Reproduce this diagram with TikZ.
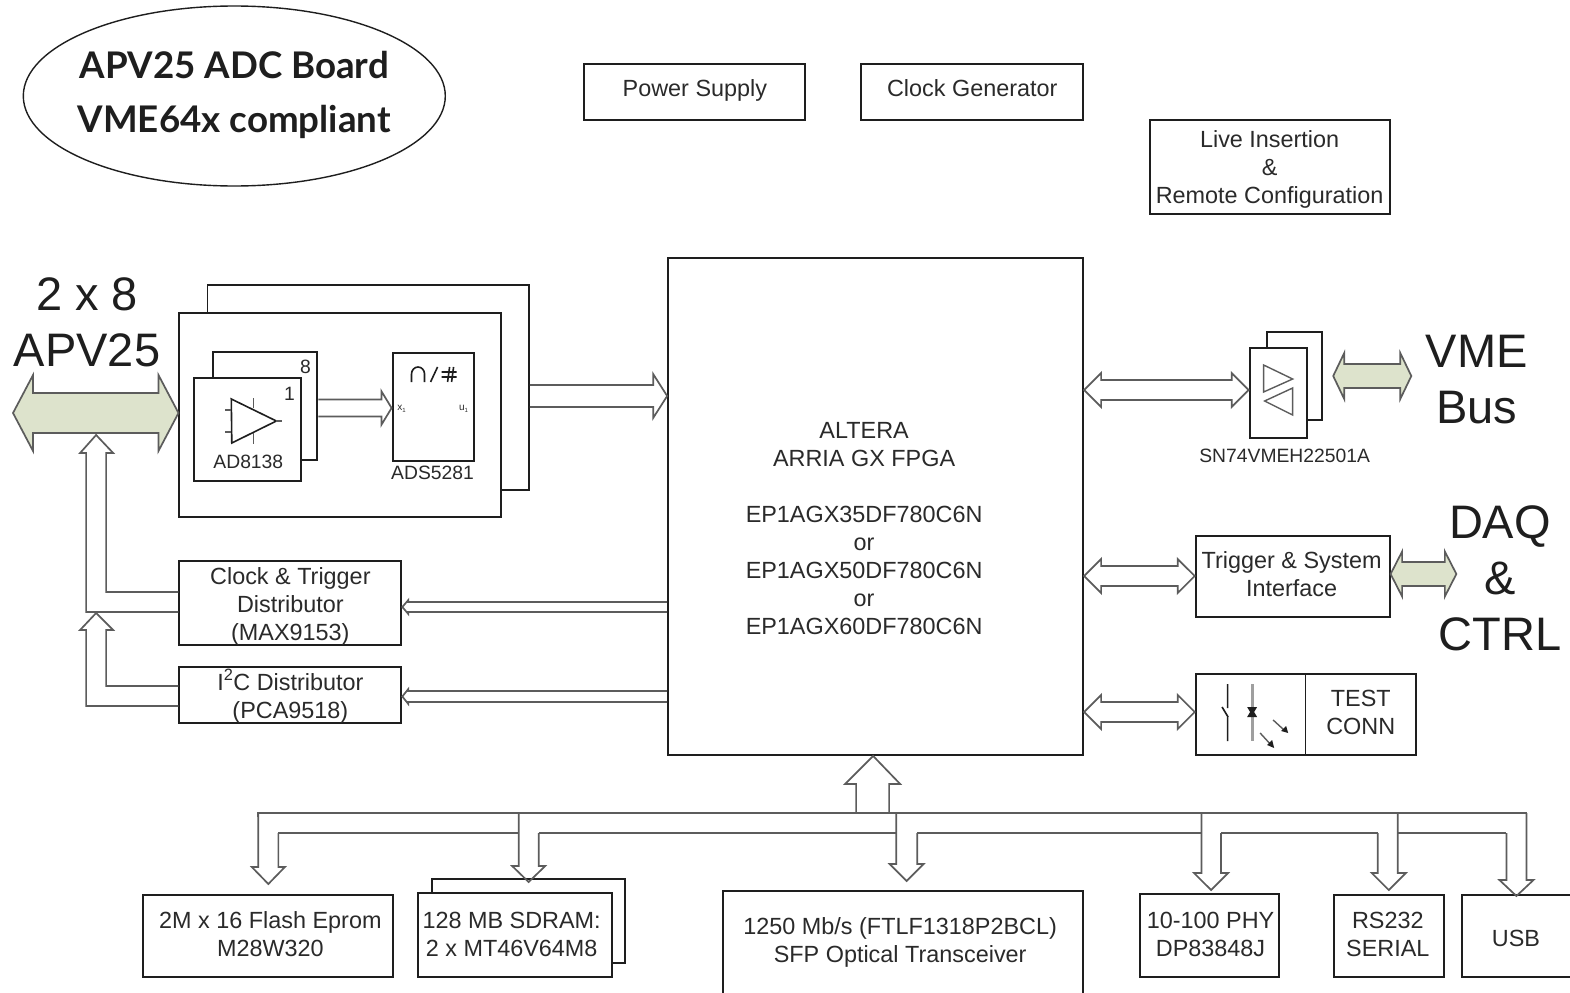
\documentclass[tikz,border=0pt]{standalone}
\usepackage{fontspec}
\setmainfont{Liberation Sans}
\newfontfamily\titlefont{Lato}
\usetikzlibrary{calc,shapes.geometric}
\definecolor{ink}{HTML}{1E1E1E}
\definecolor{txt}{HTML}{2A2A2A}
\definecolor{fatline}{HTML}{5C5C5C}
\definecolor{greenfill}{HTML}{DDE3CC}
\newsavebox\mystrutbox
\sbox\mystrutbox{\rule[-6pt]{0pt}{28pt}}
\newcommand\st{\usebox\mystrutbox}
\tikzset{
  boxline/.style={draw=ink,line width=1.9pt,fill=white,inner sep=0pt},
  label text/.style={text=txt,align=center,inner sep=0pt,font=\fontsize{23.4}{28}\selectfont},
  small text/.style={text=txt,align=center,inner sep=0pt,font=\fontsize{19.3}{22}\selectfont},
  big text/.style={text=ink,align=center,inner sep=0pt,font=\fontsize{47}{56}\selectfont},
  title text/.style={text=ink,inner sep=0pt,font=\titlefont\bfseries\fontsize{36.7}{40}\selectfont},
  fat/.style={draw=fatline,line width=1.7pt,line join=miter},
  greenfat/.style={draw=fatline,line width=1.7pt,fill=greenfill,line join=miter},
  icon/.style={draw=ink,line width=1.6pt},
  thinicon/.style={draw=fatline,line width=1.4pt},
  symbol/.style={draw=ink,line width=1.6pt}
}
% rectangle node from corners
\newcommand\bx[5]{\node[boxline,minimum width=#4pt-#2pt,minimum height=#5pt-#3pt] (#1) at ({(#2+#4)/2},{(#3+#5)/2}) {};}
% double headed horizontal arrow: style, left tip, right tip, half shaft, half head, head length
\newcommand\dbl[6]{\draw[#1] (#2) -- ($(#2)+(#6,-#5)$) -- ($(#2)+(#6,-#4)$) -- ($(#3)+(-#6,-#4)$) -- ($(#3)+(-#6,-#5)$) -- (#3) -- ($(#3)+(-#6,#5)$) -- ($(#3)+(-#6,#4)$) -- ($(#2)+(#6,#4)$) -- ($(#2)+(#6,#5)$) -- cycle;}
% single arrow, open tail, pointing right: tail centre, tip, half shaft, half head, head length
\newcommand\fatr[5]{\draw[fat] ($(#1)+(0,-#3)$) -- ($(#2)+(-#5,-#3)$) -- ($(#2)+(-#5,-#4)$) -- (#2) -- ($(#2)+(-#5,#4)$) -- ($(#2)+(-#5,#3)$) -- ($(#1)+(0,#3)$);}
% single arrow pointing left
\newcommand\fatl[5]{\draw[fat] ($(#1)+(0,-#3)$) -- ($(#2)+(#5,-#3)$) -- ($(#2)+(#5,-#4)$) -- (#2) -- ($(#2)+(#5,#4)$) -- ($(#2)+(#5,#3)$) -- ($(#1)+(0,#3)$);}
% branch down from bus: tip name, left x offset, right x offset, left start y, right start y, half head, head length
\newcommand\fatd[7]{%
  \coordinate (fdl) at ($(#1)+(#2,0)$);
  \coordinate (fdr) at ($(#1)+(#3,0)$);
  \draw[fat] (fdl |- 0,#4) -- ($(#1)+(#2,-#7)$) -- ($(#1)+(-#6,-#7)$) -- (#1) -- ($(#1)+(#6,-#7)$) -- ($(#1)+(#3,-#7)$) -- (fdr |- 0,#5);}
\begin{document}
\begin{tikzpicture}[x=1.00128pt,y=-1pt]
\useasboundingbox (0,0) rectangle (1568,993);
\clip (0,0) rectangle (1568,993);
\fill[white] (0,0) rectangle (1568,993);

% title
\node[draw=ink,line width=1.4pt,ellipse,minimum width=422pt,minimum height=180pt,inner sep=0pt] (title) at (234,96) {};
\node[title text] (title1) at (234,65) {APV25 ADC Board};
\node[title text] (title2) at (234,122) {VME64x compliant};

% top boxes
\bx{power}{583}{64}{804}{120}
\node[label text] (powert) at (694,88) {\st Power Supply};
\bx{clockgen}{860}{64}{1082}{120}
\node[label text] (clockt) at (971,88) {\st Clock Generator};
\bx{live}{1148}{120}{1388}{214}
\node[label text] (livet) at (1268,167) {\st Live Insertion\\\st\&\\\st Remote Configuration};

% FPGA
\bx{fpga}{667}{258}{1082}{755}
\node[label text] (fpgat) at (863,528) {\st ALTERA\\\st ARRIA GX FPGA\\\st\\\st EP1AGX35DF780C6N\\\st or\\\st EP1AGX50DF780C6N\\\st or\\\st EP1AGX60DF780C6N};

% ADC assembly
\bx{adcback}{207}{285}{528.5}{490}
\bx{adc}{179}{313}{501}{517}
\bx{ampback}{213}{352}{317}{460}
\node[small text] (eight) at (305,367) {8};
\bx{amp}{194}{378}{301}{481}
\node[small text] (one) at (289,394) {1};
\draw[icon] (231,399) -- (276,421) -- (231.5,443) -- cycle;
\draw[thinicon] (276,421) -- (282,421) (225,410) -- (231,410) (225,432) -- (231,432) (253,398) -- (253,408) (253,433) -- (253,444);
\node[small text] (ampt) at (248,462) {AD8138};
\bx{ads}{392}{353}{473}{461}
\node[small text] (adst) at (432,473) {ADS5281};
\draw[symbol] (411,382) -- (411,374) arc[start angle=180,end angle=360,x radius=6.5pt,y radius=-7pt] -- (424,382);
\draw[symbol] (430,382) -- (437,367);
\draw[symbol] (441,372) -- (456,372) (441,377) -- (456,377) (449,367) -- (447,382) (453,367) -- (451,382);
\node[text=txt,inner sep=0pt,font=\fontsize{10}{11}\selectfont] (xone) at (401,409) {x\raisebox{-1.5pt}{\fontsize{6}{6}\selectfont 1}};
\node[text=txt,inner sep=0pt,font=\fontsize{10}{11}\selectfont] (uone) at (463,409) {u\raisebox{-1.5pt}{\fontsize{6}{6}\selectfont 1}};

% internal arrows
\coordinate (adsin) at (ads.west |- 0,408);
\fatr{ampback.east |- 0,408}{adsin}{8.5}{16.5}{10}
\coordinate (fpgain) at (fpga.west |- 0,396);
\fatr{adcback.east |- 0,396}{fpgain}{11}{22}{14}

% APV25
\node[big text] (twox) at (87,294) {2 x 8};
\node[big text] (apv) at (87,350) {APV25};
\coordinate (apvl) at (13,413);
\coordinate (apvr) at (adc.west |- 0,413);
\dbl{greenfat}{apvl}{apvr}{20}{38}{20}

% distributors
\bx{clk}{179}{561}{401}{645}
\node[label text] (clkt) at (290,604) {\st Clock \& Trigger\\\st Distributor\\\st(MAX9153)};
\bx{itc}{179}{667}{401}{723}
\node[label text] (itct) at (290,696) {\st I\textsuperscript{2}C Distributor\\\st(PCA9518)};
\coordinate (uptipa) at (96,435);
\coordinate (uptipb) at (96,613);
\draw[fat] (clk.west |- 0,592) -- (106,592) -- (106,453) -- (113,453) -- (uptipa) -- (80,453) -- (86,453) -- (86,612) -- (clk.west |- 0,612);
\draw[fat] (itc.west |- 0,686) -- (106,686) -- (106,630) -- (113,630) -- (uptipb) -- (80,630) -- (86,630) -- (86,706) -- (itc.west |- 0,706);
\coordinate (clktip) at (clk.east |- 0,607);
\coordinate (itctip) at (itc.east |- 0,696.5);
\fatl{fpga.west |- 0,607}{clktip}{5}{7}{6}
\fatl{fpga.west |- 0,696.5}{itctip}{5.5}{7.5}{6}

% VME
\bx{snback}{1265}{332}{1320}{420}
\bx{sn}{1248}{348}{1305}{438}
\draw[thinicon] (1262,365) -- (1291,379) -- (1262,392) -- cycle;
\draw[thinicon] (1291,388) -- (1291,415) -- (1263,401) -- cycle;
\node[small text] (snt) at (1283,456) {SN74VMEH22501A};
\dbl{fat}{fpga.east |- 0,390}{sn.west |- 0,390}{10}{17}{17}
\coordinate (vmel) at (1331.5,376);
\coordinate (vmer) at (1409.5,376);
\dbl{greenfat}{vmel}{vmer}{12}{23}{11}
\node[big text] (vmet) at (1475,380) {VME\\Bus};

% Trigger
\bx{trig}{1194}{536}{1388}{617}
\node[label text] (trigt) at (1290,574) {\st Trigger \& System\\\st Interface};
\dbl{fat}{fpga.east |- 0,576}{trig.west |- 0,576}{10}{17}{17}
\coordinate (daql) at (trig.east |- 0,574);
\coordinate (daqr) at (1454.5,574);
\dbl{greenfat}{daql}{daqr}{12}{22.5}{11.5}
\node[big text] (daqt) at (1498,578) {DAQ\\\&\\CTRL};

% Test
\bx{test}{1194}{674}{1414}{755}
\draw[icon] (test.north -| 1304,0) -- (test.south -| 1304,0);
\node[label text] (testt) at (1359,712) {\st TEST\\\st CONN};
\dbl{fat}{fpga.east |- 0,712}{test.west |- 0,712}{10}{17}{17}
\draw[icon] (1226,684) -- (1226,708) (1220.5,707) -- (1226.5,717) (1226,717) -- (1226,741);
\draw[draw=gray!75,line width=3pt] (1250.5,684) -- (1250.5,741);
\fill[ink] (1245.5,707) -- (1255.5,707) -- (1252.5,712) -- (1255.5,717) -- (1245.5,717) -- (1248.5,712) -- cycle;
\draw[thinicon] (1271.5,720) -- (1283.5,731);
\draw[thinicon] (1258.5,733) -- (1269.5,745);
\fill[ink] (1286.5,733) -- (1279.5,731) -- (1284.5,726) -- cycle;
\fill[ink] (1272.5,748) -- (1265.5,745) -- (1270.5,740) -- cycle;

% bottom boxes
\bx{flash}{143}{895}{393}{977}
\node[label text] (flasht) at (270,934) {\st 2M x 16 Flash Eprom\\\st M28W320};
\bx{sdramback}{431}{879}{624.5}{963}
\bx{sdram}{417}{893}{611.5}{977}
\node[label text] (sdramt) at (511,934) {\st 128 MB SDRAM:\\\st 2 x MT46V64M8};
\bx{sfp}{722}{891}{1082}{1010}
\node[label text] (sfpt) at (899,940) {\st 1250 Mb/s (FTLF1318P2BCL)\\\st SFP Optical Transceiver};
\bx{phy}{1138}{894}{1277}{977}
\node[label text] (phyt) at (1209,934) {\st 10-100 PHY\\\st DP83848J};
\bx{rs}{1332}{895}{1442}{977}
\node[label text] (rst) at (1386,934) {\st RS232\\\st SERIAL};
\bx{usb}{1460}{895}{1590}{977}
\node[label text] (usbt) at (1514,938) {\st USB};

% bus
\coordinate (tipflash) at (268,884);
\coordinate (tipsdram) at (528,882);
\coordinate (tipsfp) at (905.5,881);
\coordinate (tipphy) at (1209.5,890);
\coordinate (tiprs) at (1387,890);
\coordinate (tipusb) at (1514.5,896);
\coordinate (tipup) at (fpga.south -| 872,0);
\draw[fat] (258,817) -- (258,813) -- (1524.5,813) -- (1524.5,817);
\draw[fat] (278,833) -- (518,833) (538,833) -- (895,833) (916,833) -- (1200,833) (1219.5,833) -- (1376,833) (1396,833) -- (1504.5,833);
\fatd{tipflash}{-10}{10}{813}{833}{16.5}{17}
\fatd{tipsdram}{-10}{10}{813}{833}{16.5}{16}
\fatd{tipsfp}{-10.5}{10.5}{813}{833}{17}{17}
\fatd{tipphy}{-9.5}{10}{813}{833}{17}{17}
\fatd{tiprs}{-11}{9}{833}{813}{17}{17}
\fatd{tipusb}{-10}{10}{833}{813}{17}{16}
\draw[fat] (855,813) -- (855,784) -- (844,784) -- (tipup) -- (899,784) -- (888,784) -- (888,813);
\end{tikzpicture}
\end{document}
